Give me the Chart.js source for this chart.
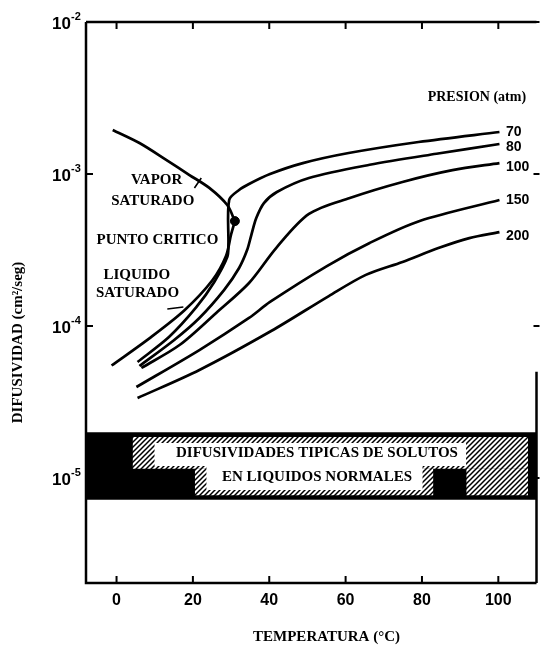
<!DOCTYPE html>
<html lang="es">
<head>
  <meta charset="UTF-8" />
  <title>Difusividad en CO2 vs temperatura</title>
  <script src="https://cdn.jsdelivr.net/npm/chart.js@4.4.1/dist/chart.umd.min.js"></script>
  <style>
    html, body { margin: 0; padding: 0; background: #fff; }
    #grafico { display: block; }
  </style>
</head>
<body>
  <canvas id="grafico" width="542" height="652"></canvas>
  <script>
    // valores: temperatura (°C), difusividad (cm2/seg)
    const tVapor = [-1.0, 6.0, 13.0, 19.1, 24.3, 29.0, 31.0];
    const dVapor = [1.95e-3, 1.6e-3, 1.24e-3, 9.85e-4, 8.1e-4, 6.25e-4, 4.9e-4];

    const tLiquido = [-1.3, 8.6, 17.8, 25.1, 28.7, 30.0, 31.0];
    const dLiquido = [5.5e-5, 8.3e-5, 1.27e-4, 2.0e-4, 2.9e-4, 4.0e-4, 4.9e-4];

    const puntoCritico = [31.0, 4.9e-4];

    const t70 = [5.5, 13.8, 20.9, 25.6, 29.0, 29.3, 29.5, 32.1, 34.7, 40.2, 48.8, 60.8, 79.1, 100.3];
    const d70 = [5.8e-5, 8.5e-5, 1.33e-4, 1.95e-4, 2.84e-4, 3.4e-4, 6.75e-4, 7.85e-4, 8.6e-4, 1.0e-3, 1.18e-3, 1.375e-3, 1.625e-3, 1.89e-3];

    const t80 = [6.0, 15.1, 21.7, 28.2, 32.1, 34.2, 35.3, 36.6, 38.6, 42.0, 50.4, 66.3, 83.8, 100.3];
    const d80 = [5.46e-5, 8.1e-5, 1.13e-4, 1.73e-4, 2.41e-4, 3.16e-4, 3.97e-4, 5.13e-4, 6.44e-4, 7.62e-4, 9.42e-4, 1.15e-3, 1.36e-3, 1.575e-3];

    const t100 = [6.5, 16.5, 26.1, 34.7, 41.8, 50.4, 61.1, 74.9, 88.0, 100.3];
    const d100 = [5.3e-5, 7.5e-5, 1.22e-4, 1.92e-4, 3.26e-4, 5.46e-4, 6.95e-4, 8.86e-4, 1.06e-3, 1.18e-3];

    const t150 = [5.2, 21.7, 34.7, 40.2, 55.1, 66.3, 79.4, 100.3];
    const d150 = [3.97e-5, 6.95e-5, 1.13e-4, 1.44e-4, 2.48e-4, 3.52e-4, 4.91e-4, 6.75e-4];

    const t200 = [5.5, 21.7, 40.5, 55.6, 65.3, 74.9, 84.3, 92.4, 100.3];
    const d200 = [3.36e-5, 5.14e-5, 9.27e-5, 1.575e-4, 2.17e-4, 2.64e-4, 3.26e-4, 3.79e-4, 4.15e-4];

    const presiones = ['70', '80', '100', '150', '200'];
    const presionT = 102;
    const presionD = [1.89e-3, 1.51e-3, 1.11e-3, 6.75e-4, 3.91e-4];

    // franja de solutos en liquidos normales: [t0, t1, dSup, dInf]
    const franjaNegra = [-8, 110, 2.0e-5, 7.2e-6];
    const rayados = [
      [4.2, 107.8, 1.86e-5, 1.15e-5],
      [20.5, 83.0, 1.15e-5, 7.7e-6],
      [91.6, 107.8, 1.15e-5, 7.7e-6]
    ];
    const cajasBlancas = [
      [9.9, 91.6, 1.7e-5, 1.2e-5],
      [23.5, 80.2, 1.2e-5, 8.34e-6]
    ];

    // lineas indicadoras de las etiquetas
    const tFlechaVapor = [20.4, 22.2];
    const dFlechaVapor = [8.09e-4, 9.42e-4];
    const tFlechaLiquido = [13.3, 17.5];
    const dFlechaLiquido = [1.294e-4, 1.334e-4];

    const xTicks = [0, 20, 40, 60, 80, 100];
    const yTicks = [1e-5, 1e-4, 1e-3, 1e-2];
    const yExponentes = ['-5', '-4', '-3', '-2'];

    const notas = [
      { texto: 'PRESION (atm)', t: 81.5, d: 3.2e-3, alin: 'left', size: 14 },
      { texto: 'VAPOR', t: 10.5, d: 9.1e-4 },
      { texto: 'SATURADO', t: 9.5, d: 6.6e-4 },
      { texto: 'PUNTO CRITICO', t: 10.7, d: 3.7e-4 },
      { texto: 'LIQUIDO', t: 5.3, d: 2.17e-4 },
      { texto: 'SATURADO', t: 5.5, d: 1.65e-4 },
      { texto: 'DIFUSIVIDADES TIPICAS DE SOLUTOS', t: 52.5, d: 1.46e-5 },
      { texto: 'EN LIQUIDOS NORMALES', t: 52.5, d: 1.02e-5 }
    ];

    const pts = (ts, ds) => ts.map((t, i) => ({ x: t, y: ds[i] }));

    function curva(ts, ds, ancho) {
      return {
        data: pts(ts, ds),
        borderColor: '#000',
        borderWidth: ancho || 2.7,
        pointRadius: 0,
        tension: 0.3,
        fill: false,
        order: 0
      };
    }

    // rectangulo = borde superior + borde inferior rellenado hasta el anterior
    function rect(r, color, order) {
      const [t0, t1, dSup, dInf] = r;
      return [
        { data: pts([t0, t1], [dSup, dSup]), borderColor: 'rgba(0,0,0,0)', borderWidth: 0, pointRadius: 0, fill: false, order },
        { data: pts([t0, t1], [dInf, dInf]), borderColor: 'rgba(0,0,0,0)', borderWidth: 0, pointRadius: 0, fill: '-1', backgroundColor: color, order }
      ];
    }

    function rayado() {
      const c = document.createElement('canvas');
      c.width = 5; c.height = 5;
      const g = c.getContext('2d');
      g.fillStyle = '#fff';
      g.fillRect(0, 0, 5, 5);
      g.strokeStyle = '#000';
      g.lineWidth = 1.5;
      g.beginPath();
      g.moveTo(-1, 6); g.lineTo(6, -1);
      g.moveTo(-1, 1); g.lineTo(1, -1);
      g.moveTo(4, 6); g.lineTo(6, 4);
      g.stroke();
      return g.createPattern(c, 'repeat');
    }
    const patron = rayado();

    const datasets = [
      ...rect(franjaNegra, '#000', 5),
      ...rayados.flatMap(r => rect(r, patron, 4)),
      ...cajasBlancas.flatMap(r => rect(r, '#fff', 3)),
      curva(tVapor, dVapor),
      curva(tLiquido, dLiquido),
      curva(t70, d70),
      curva(t80, d80),
      curva(t100, d100),
      curva(t150, d150),
      curva(t200, d200),
      curva(tFlechaVapor, dFlechaVapor, 1.6),
      curva(tFlechaLiquido, dFlechaLiquido, 1.6),
      {
        data: [{ x: puntoCritico[0], y: puntoCritico[1] }],
        showLine: false,
        pointRadius: 4.5,
        pointBackgroundColor: '#000',
        pointBorderColor: '#000',
        order: 0
      }
    ];

    // marco con marcas hacia adentro
    const marco = {
      id: 'marco',
      afterDraw(chart) {
        const { ctx, chartArea: a, scales: { x, y } } = chart;
        ctx.save();
        ctx.strokeStyle = '#000';
        ctx.lineWidth = 2.5;
        ctx.beginPath();
        ctx.moveTo(a.left, a.top);
        ctx.lineTo(a.left, a.bottom);
        ctx.lineTo(a.right, a.bottom);
        ctx.moveTo(a.left, a.top);
        ctx.lineTo(a.right, a.top);
        ctx.moveTo(a.right, y.getPixelForValue(5e-5));
        ctx.lineTo(a.right, a.bottom);
        ctx.stroke();
        ctx.lineWidth = 2;
        ctx.beginPath();
        xTicks.forEach(v => {
          const px = x.getPixelForValue(v);
          ctx.moveTo(px, a.bottom); ctx.lineTo(px, a.bottom - 7);
          ctx.moveTo(px, a.top); ctx.lineTo(px, a.top + 7);
        });
        yTicks.forEach(v => {
          const py = y.getPixelForValue(v);
          ctx.moveTo(a.left, py); ctx.lineTo(a.left + 7, py);
          ctx.moveTo(a.right - 3, py); ctx.lineTo(a.right + 3, py);
        });
        ctx.stroke();

        // etiquetas 10 con exponente
        ctx.fillStyle = '#000';
        ctx.textBaseline = 'middle';
        yTicks.forEach((v, i) => {
          const py = y.getPixelForValue(v);
          ctx.font = 'bold 17px "Liberation Sans"';
          ctx.textAlign = 'right';
          ctx.fillText('10', a.left - 15, py + 2);
          ctx.font = 'bold 11px "Liberation Sans"';
          ctx.textAlign = 'left';
          ctx.fillText(yExponentes[i], a.left - 15, py - 5);
        });
        ctx.restore();
      }
    };

    const textos = {
      id: 'textos',
      afterDatasetsDraw(chart) {
        const { ctx, chartArea: a, scales: { x, y } } = chart;
        ctx.save();
        ctx.fillStyle = '#000';
        ctx.textBaseline = 'middle';
        notas.forEach(n => {
          ctx.font = 'bold ' + (n.size || 15) + 'px "Liberation Serif"';
          ctx.textAlign = n.alin || 'center';
          ctx.fillText(n.texto, x.getPixelForValue(n.t), y.getPixelForValue(n.d));
        });
        ctx.font = 'bold 14px "Liberation Sans"';
        ctx.textAlign = 'left';
        presiones.forEach((p, i) => {
          ctx.fillText(p, x.getPixelForValue(presionT), y.getPixelForValue(presionD[i]));
        });
        // titulos de ejes
        ctx.font = 'bold 15px "Liberation Serif"';
        ctx.textAlign = 'center';
        ctx.fillText('TEMPERATURA (°C)', x.getPixelForValue(55), a.bottom + 54);
        ctx.translate(18, (a.top + a.bottom) / 2 + 40);
        ctx.rotate(-Math.PI / 2);
        ctx.fillText('DIFUSIVIDAD (cm²/seg)', 0, 0);
        ctx.restore();
      }
    };

    new Chart(document.getElementById('grafico'), {
      type: 'line',
      data: { datasets },
      options: {
        responsive: false,
        animation: false,
        layout: { padding: { top: 22, right: 3 } },
        plugins: {
          legend: { display: false },
          tooltip: { enabled: false }
        },
        scales: {
          x: {
            type: 'linear',
            min: -8,
            max: 110,
            afterBuildTicks: s => { s.ticks = xTicks.map(v => ({ value: v })); },
            afterFit: s => { s.height = 69; },
            grid: { display: false, drawTicks: false },
            border: { display: false },
            ticks: {
              color: '#000',
              padding: 8,
              maxRotation: 0,
              autoSkip: false,
              font: { family: 'Liberation Sans', weight: 'bold', size: 16 }
            }
          },
          y: {
            type: 'logarithmic',
            min: 2.04e-6,
            max: 1e-2,
            afterBuildTicks: s => { s.ticks = yTicks.map(v => ({ value: v })); },
            afterFit: s => { s.width = 86; },
            grid: { display: false, drawTicks: false },
            border: { display: false },
            ticks: { display: false }
          }
        }
      },
      plugins: [marco, textos]
    });
  </script>
</body>
</html>
